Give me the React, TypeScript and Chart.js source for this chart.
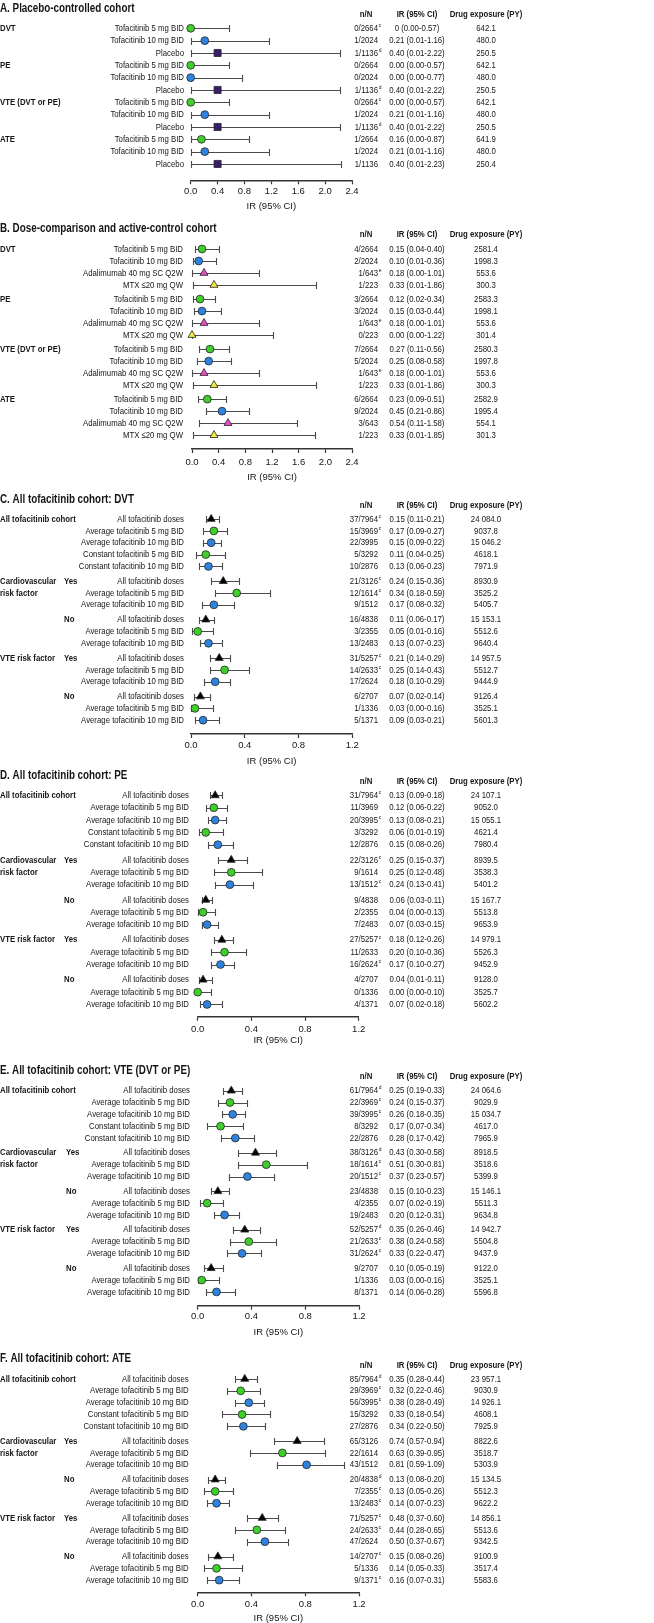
import React, { useEffect, useRef } from "react";
import { Chart, registerables } from "chart.js";

Chart.register(...registerables);

// ======================= DATA =======================
const PANEL_TITLES = [
  "A. Placebo-controlled cohort",
  "B. Dose-comparison and active-control cohort",
  "C. All tofacitinib cohort: DVT",
  "D. All tofacitinib cohort: PE",
  "E. All tofacitinib cohort: VTE (DVT or PE)",
  "F. All tofacitinib cohort: ATE",
];
const COLUMN_HEADERS = ["n/N", "IR (95% CI)", "Drug exposure (PY)"];
const AXIS_TITLE = "IR (95% CI)";
const AXIS_MAX_AB = 2.4;
const AXIS_MAX_CF = 1.2;
const AXIS_STEP = 0.4;

// ---- A. Placebo-controlled cohort ----
const A_GROUPS = ["DVT", "PE", "VTE (DVT or PE)", "ATE"];
const A_TREATMENTS = ["Tofacitinib 5 mg BID", "Tofacitinib 10 mg BID", "Placebo"];
const A_MARKERS = ["green", "blue", "placebo"];
const A_IR = [0, 0.21, 0.4, 0.0, 0.0, 0.4, 0.0, 0.21, 0.4, 0.16, 0.21, 0.4];
const A_LO = [0.0, 0.01, 0.01, 0.0, 0.0, 0.01, 0.0, 0.01, 0.01, 0.0, 0.01, 0.01];
const A_HI = [0.57, 1.16, 2.22, 0.57, 0.77, 2.22, 0.57, 1.16, 2.22, 0.87, 1.16, 2.23];
const A_NN = ["0/2664", "1/2024", "1/1136", "0/2664", "0/2024", "1/1136", "0/2664", "1/2024", "1/1136", "1/2664", "1/2024", "1/1136"];
const A_SUP = ["c", "", "d", "", "", "d", "c", "", "d", "", "", ""];
const A_PY = [642.1, 480.0, 250.5, 642.1, 480.0, 250.5, 642.1, 480.0, 250.5, 641.9, 480.0, 250.4];
const A_IR_TEXT_OVERRIDE: Record<number, string> = { 0: "0 (0.00-0.57)" };

// ---- B. Dose-comparison and active-control cohort ----
const B_GROUPS = ["DVT", "PE", "VTE (DVT or PE)", "ATE"];
const B_TREATMENTS = ["Tofacitinib 5 mg BID", "Tofacitinib 10 mg BID", "Adalimumab 40 mg SC Q2W", "MTX \u226420 mg QW"];
const B_MARKERS = ["green", "blue", "adalimumab", "mtx"];
const B_IR = [0.15, 0.1, 0.18, 0.33, 0.12, 0.15, 0.18, 0.0, 0.27, 0.25, 0.18, 0.33, 0.23, 0.45, 0.54, 0.33];
const B_LO = [0.04, 0.01, 0.0, 0.01, 0.02, 0.03, 0.0, 0.0, 0.11, 0.08, 0.0, 0.01, 0.09, 0.21, 0.11, 0.01];
const B_HI = [0.4, 0.36, 1.01, 1.86, 0.34, 0.44, 1.01, 1.22, 0.56, 0.58, 1.01, 1.86, 0.51, 0.86, 1.58, 1.85];
const B_NN = ["4/2664", "2/2024", "1/643", "1/223", "3/2664", "3/2024", "1/643", "0/223", "7/2664", "5/2024", "1/643", "1/223", "6/2664", "9/2024", "3/643", "1/223"];
const B_SUP = ["", "", "e", "", "", "", "e", "", "", "", "e", "", "", "", "", ""];
const B_PY = [2581.4, 1998.3, 553.6, 300.3, 2583.3, 1998.1, 553.6, 301.4, 2580.3, 1997.8, 553.6, 300.3, 2582.9, 1995.4, 554.1, 301.3];

// ---- C–F. All tofacitinib cohort (shared rows) ----
const COHORT_ROW_LABELS = [
  "All tofacitinib doses", "Average tofacitinib 5 mg BID", "Average tofacitinib 10 mg BID",
  "Constant tofacitinib 5 mg BID", "Constant tofacitinib 10 mg BID",
  "All tofacitinib doses", "Average tofacitinib 5 mg BID", "Average tofacitinib 10 mg BID",
  "All tofacitinib doses", "Average tofacitinib 5 mg BID", "Average tofacitinib 10 mg BID",
  "All tofacitinib doses", "Average tofacitinib 5 mg BID", "Average tofacitinib 10 mg BID",
  "All tofacitinib doses", "Average tofacitinib 5 mg BID", "Average tofacitinib 10 mg BID",
];
const COHORT_MARKERS = ["all", "green", "blue", "green", "blue", "all", "green", "blue", "all", "green", "blue", "all", "green", "blue", "all", "green", "blue"];
const COHORT_GROUP_INDEX = [0, 0, 0, 0, 0, 1, 1, 1, 2, 2, 2, 3, 3, 3, 4, 4, 4];
const COHORT_SIDE_LABELS: [number, string][] = [[0, "All tofacitinib cohort"], [5, "Cardiovascular"], [6, "risk factor"], [11, "VTE risk factor"]];
const COHORT_SUB_LABELS: [number, string][] = [[5, "Yes"], [8, "No"], [11, "Yes"], [14, "No"]];

// C. DVT
const C_IR = [0.15, 0.17, 0.15, 0.11, 0.13, 0.24, 0.34, 0.17, 0.11, 0.05, 0.13, 0.21, 0.25, 0.18, 0.07, 0.03, 0.09];
const C_LO = [0.11, 0.09, 0.09, 0.04, 0.06, 0.15, 0.18, 0.08, 0.06, 0.01, 0.07, 0.14, 0.14, 0.1, 0.02, 0.0, 0.03];
const C_HI = [0.21, 0.27, 0.22, 0.25, 0.23, 0.36, 0.59, 0.32, 0.17, 0.16, 0.23, 0.29, 0.43, 0.29, 0.14, 0.16, 0.21];
const C_NN = ["37/7964", "15/3969", "22/3995", "5/3292", "10/2876", "21/3126", "12/1614", "9/1512", "16/4838", "3/2355", "13/2483", "31/5257", "14/2633", "17/2624", "6/2707", "1/1336", "5/1371"];
const C_SUP = ["c", "c", "", "", "", "c", "c", "", "", "", "", "c", "c", "", "", "", ""];
const C_PY = [24084.0, 9037.8, 15046.2, 4618.1, 7971.9, 8930.9, 3525.2, 5405.7, 15153.1, 5512.6, 9640.4, 14957.5, 5512.7, 9444.9, 9126.4, 3525.1, 5601.3];

// D. PE
const D_IR = [0.13, 0.12, 0.13, 0.06, 0.15, 0.25, 0.25, 0.24, 0.06, 0.04, 0.07, 0.18, 0.2, 0.17, 0.04, 0.0, 0.07];
const D_LO = [0.09, 0.06, 0.08, 0.01, 0.08, 0.15, 0.12, 0.13, 0.03, 0.0, 0.03, 0.12, 0.1, 0.1, 0.01, 0.0, 0.02];
const D_HI = [0.18, 0.22, 0.21, 0.19, 0.26, 0.37, 0.48, 0.41, 0.11, 0.13, 0.15, 0.26, 0.36, 0.27, 0.11, 0.1, 0.18];
const D_NN = ["31/7964", "11/3969", "20/3995", "3/3292", "12/2876", "22/3126", "9/1614", "13/1512", "9/4838", "2/2355", "7/2483", "27/5257", "11/2633", "16/2624", "4/2707", "0/1336", "4/1371"];
const D_SUP = ["c", "", "c", "", "", "c", "", "c", "", "", "", "c", "", "c", "", "", ""];
const D_PY = [24107.1, 9052.0, 15055.1, 4621.4, 7980.4, 8939.5, 3538.3, 5401.2, 15167.7, 5513.8, 9653.9, 14979.1, 5526.3, 9452.9, 9128.0, 3525.7, 5602.2];

// E. VTE
const E_IR = [0.25, 0.24, 0.26, 0.17, 0.28, 0.43, 0.51, 0.37, 0.15, 0.07, 0.2, 0.35, 0.38, 0.33, 0.1, 0.03, 0.14];
const E_LO = [0.19, 0.15, 0.18, 0.07, 0.17, 0.3, 0.3, 0.23, 0.1, 0.02, 0.12, 0.26, 0.24, 0.22, 0.05, 0.0, 0.06];
const E_HI = [0.33, 0.37, 0.35, 0.34, 0.42, 0.58, 0.81, 0.57, 0.23, 0.19, 0.31, 0.46, 0.58, 0.47, 0.19, 0.16, 0.28];
const E_NN = ["61/7964", "22/3969", "39/3995", "8/3292", "22/2876", "38/3126", "18/1614", "20/1512", "23/4838", "4/2355", "19/2483", "52/5257", "21/2633", "31/2624", "9/2707", "1/1336", "8/1371"];
const E_SUP = ["d", "c", "c", "", "", "d", "c", "c", "", "", "", "d", "c", "c", "", "", ""];
const E_PY = [24064.6, 9029.9, 15034.7, 4617.0, 7965.9, 8918.5, 3518.6, 5399.9, 15146.1, 5511.3, 9634.8, 14942.7, 5504.8, 9437.9, 9122.0, 3525.1, 5596.8];

// F. ATE
const F_IR = [0.35, 0.32, 0.38, 0.33, 0.34, 0.74, 0.63, 0.81, 0.13, 0.13, 0.14, 0.48, 0.44, 0.5, 0.15, 0.14, 0.16];
const F_LO = [0.28, 0.22, 0.28, 0.18, 0.22, 0.57, 0.39, 0.59, 0.08, 0.05, 0.07, 0.37, 0.28, 0.37, 0.08, 0.05, 0.07];
const F_HI = [0.44, 0.46, 0.49, 0.54, 0.5, 0.94, 0.95, 1.09, 0.2, 0.26, 0.23, 0.6, 0.65, 0.67, 0.26, 0.33, 0.31];
const F_NN = ["85/7964", "29/3969", "56/3995", "15/3292", "27/2876", "65/3126", "22/1614", "43/1512", "20/4838", "7/2355", "13/2483", "71/5257", "24/2633", "47/2624", "14/2707", "5/1336", "9/1371"];
const F_SUP = ["d", "c", "c", "", "", "", "", "", "d", "c", "c", "c", "c", "", "c", "", "c"];
const F_PY = [23957.1, 9030.9, 14926.1, 4608.1, 7925.9, 8822.6, 3518.7, 5303.9, 15134.5, 5512.3, 9622.2, 14856.1, 5513.6, 9342.5, 9100.9, 3517.4, 5583.6];

// ======================= STYLES / LAYOUT =======================
const MARKER_STYLES: Record<string, { style: string; r: number; fill: string }> = {
  green: { style: "circle", r: 3.9, fill: "#3fcf2b" },
  blue: { style: "circle", r: 3.9, fill: "#2d83e0" },
  placebo: { style: "rect", r: 5.0, fill: "#3a1c6c" },
  adalimumab: { style: "triangle", r: 4.6, fill: "#e64ccb" },
  mtx: { style: "triangle", r: 4.6, fill: "#f3ea3e" },
  all: { style: "triangle", r: 4.6, fill: "#000000" },
};
const TEXT_COLOR = "#151515";
const CI_COLOR = "#4a4a4a";
const AXIS_COLOR = "#333333";
const CAP_HALF = 3.4;
const FONT_SIZE = 9.5;
const TITLE_SIZE = 12;
const SUP_SIZE = 6;
const NN_RIGHT = 378;
const IR_CENTER = 417;
const PY_CENTER = 486;
const NN_HEADER_CENTER = 366;

// page-coordinate layout of each panel
const LAYOUT = [
  { top: 0, h: 222, titleY: 9, headerY: 14, row0: 25, step: 12.6, gap: 0, axisY: 180.3, tickOff: 10.8, titleOff: 25.7, xL: 190.7, xR: 352, labelRight: 184, subX: 64 },
  { top: 216, h: 280, titleY: 229, headerY: 234, row0: 246, step: 12.2, gap: 2, axisY: 449, tickOff: 13.0, titleOff: 28.3, xL: 192, xR: 352, labelRight: 183, subX: 64 },
  { top: 490, h: 282, titleY: 500, headerY: 505, row0: 516, step: 12, gap: 3, axisY: 734, tickOff: 11.3, titleOff: 27.7, xL: 191, xR: 352.3, labelRight: 184, subX: 64 },
  { top: 768, h: 290, titleY: 775.5, headerY: 781, row0: 792.3, step: 12.5, gap: 3, axisY: 1016.7, tickOff: 12.3, titleOff: 23.5, xL: 197.7, xR: 358.7, labelRight: 189, subX: 64 },
  { top: 1057, h: 290, titleY: 1071, headerY: 1076.5, row0: 1087.7, step: 12, gap: 3, axisY: 1305.7, tickOff: 11, titleOff: 27, xL: 197.7, xR: 359, labelRight: 190, subX: 66 },
  { top: 1345, h: 278, titleY: 1358.3, headerY: 1365, row0: 1376, step: 12, gap: 3, axisY: 1592.3, tickOff: 12, titleOff: 26, xL: 197.7, xR: 359, labelRight: 188.7, subX: 64 },
];

// ======================= PANEL ASSEMBLY =======================
type PanelData = {
  title: string;
  labels: string[];
  markers: string[];
  groupIdx: number[];
  est: number[];
  lo: number[];
  hi: number[];
  nn: string[];
  sup: string[];
  py: number[];
  irOverride: Record<number, string>;
  sideLabels: [number, string][];
  subLabels: [number, string][];
  xMax: number;
};

function groupedPanel(title: string, groups: string[], treatments: string[], markers: string[], est: number[], lo: number[], hi: number[], nn: string[], sup: string[], py: number[], irOverride: Record<number, string>): PanelData {
  return {
    title,
    labels: groups.flatMap(() => treatments),
    markers: groups.flatMap(() => markers),
    groupIdx: groups.flatMap((_, g) => treatments.map(() => g)),
    est, lo, hi, nn, sup, py, irOverride,
    sideLabels: groups.map((g, k) => [k * treatments.length, g] as [number, string]),
    subLabels: [],
    xMax: AXIS_MAX_AB,
  };
}

function cohortPanel(title: string, est: number[], lo: number[], hi: number[], nn: string[], sup: string[], py: number[]): PanelData {
  return {
    title,
    labels: COHORT_ROW_LABELS,
    markers: COHORT_MARKERS,
    groupIdx: COHORT_GROUP_INDEX,
    est, lo, hi, nn, sup, py,
    irOverride: {},
    sideLabels: COHORT_SIDE_LABELS,
    subLabels: COHORT_SUB_LABELS,
    xMax: AXIS_MAX_CF,
  };
}

const PANELS: PanelData[] = [
  groupedPanel(PANEL_TITLES[0], A_GROUPS, A_TREATMENTS, A_MARKERS, A_IR, A_LO, A_HI, A_NN, A_SUP, A_PY, A_IR_TEXT_OVERRIDE),
  groupedPanel(PANEL_TITLES[1], B_GROUPS, B_TREATMENTS, B_MARKERS, B_IR, B_LO, B_HI, B_NN, B_SUP, B_PY, {}),
  cohortPanel(PANEL_TITLES[2], C_IR, C_LO, C_HI, C_NN, C_SUP, C_PY),
  cohortPanel(PANEL_TITLES[3], D_IR, D_LO, D_HI, D_NN, D_SUP, D_PY),
  cohortPanel(PANEL_TITLES[4], E_IR, E_LO, E_HI, E_NN, E_SUP, E_PY),
  cohortPanel(PANEL_TITLES[5], F_IR, F_LO, F_HI, F_NN, F_SUP, F_PY),
];

// ======================= TEXT HELPERS =======================
let NARROW: boolean | null = null;
function hasNarrow(): boolean {
  if (NARROW !== null) return NARROW;
  try {
    const c = document.createElement("canvas").getContext("2d")!;
    const s = "Average tofacitinib 10 mg BID";
    c.font = "20px 'Liberation Sans Narrow', monospace";
    const w1 = c.measureText(s).width;
    c.font = "20px monospace";
    const w2 = c.measureText(s).width;
    NARROW = Math.abs(w1 - w2) > 0.5;
  } catch (e) {
    NARROW = false;
  }
  return NARROW;
}
const family = () => (hasNarrow() ? "'Liberation Sans Narrow'" : "'Liberation Sans', Arial, sans-serif");
const squeeze = () => (hasNarrow() ? 1 : 0.82);
const TICK_FAMILY = "'Liberation Sans Narrow', 'Liberation Sans', Arial, sans-serif";

function drawT(ctx: CanvasRenderingContext2D, text: string, x: number, y: number, align: CanvasTextAlign, size: number, bold: boolean) {
  ctx.save();
  ctx.font = `${bold ? "bold " : ""}${size}px ${family()}`;
  ctx.fillStyle = TEXT_COLOR;
  ctx.textBaseline = "middle";
  ctx.textAlign = align;
  ctx.translate(x, y);
  ctx.scale(squeeze(), 1);
  ctx.fillText(text, 0, 0);
  ctx.restore();
}

function fmtPY(v: number): string {
  const s = v.toFixed(1);
  const [int, dec] = s.split(".");
  const g = int.length > 4 ? int.slice(0, int.length - 3) + " " + int.slice(-3) : int;
  return g + "." + dec;
}

function irText(d: PanelData, i: number): string {
  if (d.irOverride[i] !== undefined) return d.irOverride[i];
  return `${d.est[i].toFixed(2)} (${d.lo[i].toFixed(2)}-${d.hi[i].toFixed(2)})`;
}

// ======================= CHART BUILDER =======================
function buildChart(canvas: HTMLCanvasElement, d: PanelData, L: (typeof LAYOUT)[number]) {
  const yv = d.groupIdx.map((g, i) => i + (g * L.gap) / L.step);
  const axisRel = L.axisY - L.top;
  const padTop = 2;
  const yMin = -(L.row0 - L.top - padTop) / L.step;
  const yMax = yMin + (axisRel - padTop) / L.step;
  const H = L.h - axisRel;
  const lh = FONT_SIZE * 1.2;
  const titlePadBottom = H - L.titleOff - lh / 2;
  const tickLen = 4;
  const tickPad = L.tickOff - tickLen - lh / 2;

  const ciPlugin = {
    id: "ciBars",
    beforeDatasetsDraw(chart: any) {
      const { ctx } = chart;
      const xs = chart.scales.x;
      const ys = chart.scales.y;
      ctx.save();
      ctx.strokeStyle = CI_COLOR;
      ctx.lineWidth = 1.1;
      for (let i = 0; i < d.est.length; i++) {
        const py = Math.round(ys.getPixelForValue(yv[i])) + 0.5;
        const x1 = Math.round(xs.getPixelForValue(d.lo[i])) + 0.5;
        const x2 = Math.round(xs.getPixelForValue(d.hi[i])) + 0.5;
        ctx.beginPath();
        ctx.moveTo(x1, py);
        ctx.lineTo(x2, py);
        ctx.moveTo(x1, py - CAP_HALF);
        ctx.lineTo(x1, py + CAP_HALF);
        ctx.moveTo(x2, py - CAP_HALF);
        ctx.lineTo(x2, py + CAP_HALF);
        ctx.stroke();
      }
      ctx.restore();
    },
  };

  const textPlugin = {
    id: "panelText",
    afterDraw(chart: any) {
      const { ctx } = chart;
      const ys = chart.scales.y;
      const rel = (p: number) => p - L.top;
      drawT(ctx, d.title, 0, rel(L.titleY), "left", TITLE_SIZE, true);
      drawT(ctx, COLUMN_HEADERS[0], NN_HEADER_CENTER, rel(L.headerY), "center", FONT_SIZE, true);
      drawT(ctx, COLUMN_HEADERS[1], IR_CENTER, rel(L.headerY), "center", FONT_SIZE, true);
      drawT(ctx, COLUMN_HEADERS[2], PY_CENTER, rel(L.headerY), "center", FONT_SIZE, true);
      for (let i = 0; i < d.est.length; i++) {
        const y = ys.getPixelForValue(yv[i]);
        drawT(ctx, d.labels[i], L.labelRight, y, "right", FONT_SIZE, false);
        drawT(ctx, d.nn[i], NN_RIGHT, y, "right", FONT_SIZE, false);
        if (d.sup[i]) drawT(ctx, d.sup[i], NN_RIGHT + 0.8, y - 3, "left", SUP_SIZE, false);
        drawT(ctx, irText(d, i), IR_CENTER, y, "center", FONT_SIZE, false);
        drawT(ctx, fmtPY(d.py[i]), PY_CENTER, y, "center", FONT_SIZE, false);
      }
      for (const [row, text] of d.sideLabels) {
        drawT(ctx, text, 0, ys.getPixelForValue(yv[row]), "left", FONT_SIZE, true);
      }
      for (const [row, text] of d.subLabels) {
        drawT(ctx, text, L.subX, ys.getPixelForValue(yv[row]), "left", FONT_SIZE, true);
      }
    },
  };

  return new Chart(canvas, {
    type: "scatter",
    data: {
      datasets: [
        {
          data: d.est.map((x, i) => ({ x, y: yv[i] })),
          pointStyle: d.markers.map((m) => MARKER_STYLES[m].style) as any,
          pointRadius: d.markers.map((m) => MARKER_STYLES[m].r),
          pointHoverRadius: d.markers.map((m) => MARKER_STYLES[m].r),
          pointBackgroundColor: d.markers.map((m) => MARKER_STYLES[m].fill),
          pointBorderColor: "#262626",
          pointBorderWidth: 0.8,
          showLine: false,
          clip: false as any,
        } as any,
      ],
    },
    options: {
      responsive: false,
      maintainAspectRatio: false,
      animation: false,
      devicePixelRatio: 1,
      events: [],
      layout: { padding: { left: L.xL, right: 654 - L.xR, top: padTop, bottom: 0 } },
      plugins: { legend: { display: false }, tooltip: { enabled: false }, title: { display: false } },
      scales: {
        x: {
          type: "linear",
          position: "bottom",
          min: 0,
          max: d.xMax,
          afterFit: (s: any) => {
            s.height = H;
          },
          ticks: {
            stepSize: AXIS_STEP,
            autoSkip: false,
            maxRotation: 0,
            padding: tickPad,
            color: TEXT_COLOR,
            font: { family: TICK_FAMILY, size: FONT_SIZE },
            callback: (v: any) => Number(v).toFixed(1),
          },
          grid: { drawOnChartArea: false, drawTicks: true, tickLength: tickLen, color: AXIS_COLOR, tickColor: AXIS_COLOR, tickWidth: 1.2 },
          border: { display: true, color: AXIS_COLOR, width: 1.5 },
          title: {
            display: true,
            text: AXIS_TITLE,
            color: TEXT_COLOR,
            font: { family: TICK_FAMILY, size: FONT_SIZE },
            padding: { top: 0, bottom: titlePadBottom },
          },
        },
        y: { type: "linear", display: false, reverse: true, min: yMin, max: yMax },
      },
    } as any,
    plugins: [ciPlugin, textPlugin],
  });
}

function PanelChart({ data, layout }: { data: PanelData; layout: (typeof LAYOUT)[number] }) {
  const ref = useRef<HTMLCanvasElement>(null);
  useEffect(() => {
    if (!ref.current) return;
    const chart = buildChart(ref.current, data, layout);
    return () => chart.destroy();
  }, [data, layout]);
  return (
    <canvas
      ref={ref}
      width={654}
      height={layout.h}
      style={{ position: "absolute", left: 0, top: layout.top, width: 654, height: layout.h }}
    />
  );
}

export default function App() {
  return (
    <div style={{ position: "absolute", left: 0, top: 0, width: 654, height: 1623, overflow: "hidden", background: "#ffffff" }}>
      {PANELS.map((p, i) => (
        <PanelChart key={i} data={p} layout={LAYOUT[i]} />
      ))}
    </div>
  );
}
